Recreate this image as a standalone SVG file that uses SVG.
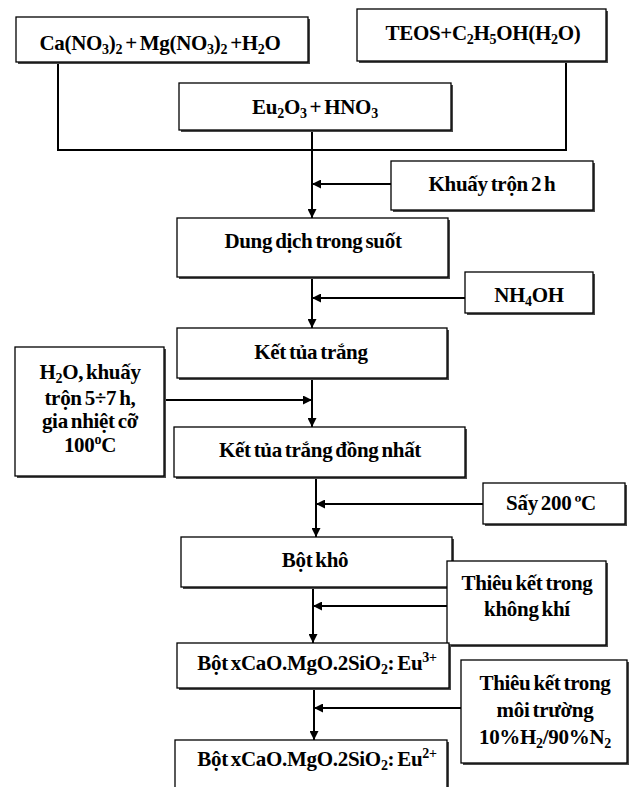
<svg xmlns="http://www.w3.org/2000/svg" width="629" height="787" viewBox="0 0 629 787">
<defs>
<style>
.sh{fill:#4a4a4a}
.box{fill:#fff;stroke:#000;stroke-width:1.3}
.t{font-family:"Liberation Serif","Times New Roman",serif;font-weight:bold;font-size:21px;letter-spacing:-0.3px;word-spacing:-2px;text-anchor:middle;fill:#000}
.s{font-size:14px}
.c{stroke:#000;stroke-width:2;fill:none}
</style>
<marker id="ah" viewBox="0 0 10 10" refX="10" refY="5" markerWidth="9" markerHeight="9" markerUnits="userSpaceOnUse" orient="auto">
<path d="M0,0 L10,5 L0,10 z" fill="#000"/>
</marker>
</defs>
<rect width="629" height="787" fill="#fff"/>

<g id="connectors">
<polyline class="c" points="58,62 58,150 566,150 566,61"/>
<line class="c" x1="312" y1="130" x2="312" y2="218" marker-end="url(#ah)"/>
<line class="c" x1="391" y1="184" x2="312" y2="184" marker-end="url(#ah)"/>
<line class="c" x1="312" y1="277" x2="312" y2="328" marker-end="url(#ah)"/>
<line class="c" x1="465" y1="298" x2="312" y2="298" marker-end="url(#ah)"/>
<line class="c" x1="312" y1="378" x2="312" y2="427" marker-end="url(#ah)"/>
<line class="c" x1="164" y1="400" x2="312" y2="400" marker-end="url(#ah)"/>
<line class="c" x1="316" y1="477" x2="316" y2="537" marker-end="url(#ah)"/>
<line class="c" x1="483" y1="504" x2="316" y2="504" marker-end="url(#ah)"/>
<line class="c" x1="313" y1="587" x2="313" y2="643" marker-end="url(#ah)"/>
<line class="c" x1="447" y1="606" x2="313" y2="606" marker-end="url(#ah)"/>
<line class="c" x1="314" y1="688" x2="314" y2="740" marker-end="url(#ah)"/>
<line class="c" x1="461" y1="708" x2="314" y2="708" marker-end="url(#ah)"/>
</g>

<g id="n-ca">
<rect class="sh" x="18" y="19" width="292" height="45"/>
<rect class="box" x="16" y="17" width="292" height="45"/>
<text class="t" x="160" y="50">Ca(NO<tspan class="s" dy="4">3</tspan><tspan dy="-4">)</tspan><tspan class="s" dy="4">2</tspan><tspan dy="-4"> + Mg(NO</tspan><tspan class="s" dy="4">3</tspan><tspan dy="-4">)</tspan><tspan class="s" dy="4">2</tspan><tspan dy="-4"> +H</tspan><tspan class="s" dy="4">2</tspan><tspan dy="-4">O</tspan></text>
</g>

<g id="n-teos">
<rect class="sh" x="359" y="11" width="249" height="52"/>
<rect class="box" x="357" y="9" width="249" height="52"/>
<text class="t" x="483" y="40">TEOS+C<tspan class="s" dy="4">2</tspan><tspan dy="-4">H</tspan><tspan class="s" dy="4">5</tspan><tspan dy="-4">OH(H</tspan><tspan class="s" dy="4">2</tspan><tspan dy="-4">O)</tspan></text>
</g>

<g id="n-eu">
<rect class="sh" x="181" y="85" width="272" height="47"/>
<rect class="box" x="179" y="83" width="272" height="47"/>
<text class="t" x="315" y="114">Eu<tspan class="s" dy="4">2</tspan><tspan dy="-4">O</tspan><tspan class="s" dy="4">3</tspan><tspan dy="-4"> + HNO</tspan><tspan class="s" dy="4">3</tspan></text>
</g>

<g id="n-khuay">
<rect class="sh" x="393" y="163" width="202" height="49"/>
<rect class="box" x="391" y="161" width="202" height="49"/>
<text class="t" x="492" y="191">Khuấy trộn 2 h</text>
</g>

<g id="n-dungdich">
<rect class="sh" x="179" y="220" width="271" height="59"/>
<rect class="box" x="177" y="218" width="271" height="59"/>
<text class="t" x="313" y="248">Dung dịch trong suốt</text>
</g>

<g id="n-nh4oh">
<rect class="sh" x="467" y="274" width="128" height="41"/>
<rect class="box" x="465" y="272" width="128" height="41"/>
<text class="t" x="529" y="302">NH<tspan class="s" dy="4">4</tspan><tspan dy="-4">OH</tspan></text>
</g>

<g id="n-kettua">
<rect class="sh" x="179" y="330" width="270" height="50"/>
<rect class="box" x="177" y="328" width="270" height="50"/>
<text class="t" x="311" y="359">Kết tủa trắng</text>
</g>

<g id="n-h2o">
<rect class="sh" x="17" y="349" width="149" height="129"/>
<rect class="box" x="15" y="347" width="149" height="129"/>
<text class="t" x="90" y="379">H<tspan class="s" dy="4">2</tspan><tspan dy="-4">O, khuấy</tspan></text>
<text class="t" x="90" y="405">trộn 5÷7 h,</text>
<text class="t" x="90" y="428">gia nhiệt cỡ</text>
<text class="t" x="90" y="452">100<tspan class="s" dy="-8">o</tspan><tspan dy="8">C</tspan></text>
</g>

<g id="n-dongnhat">
<rect class="sh" x="176" y="429" width="291" height="50"/>
<rect class="box" x="174" y="427" width="291" height="50"/>
<text class="t" x="320" y="457">Kết tủa trắng đồng nhất</text>
</g>

<g id="n-say">
<rect class="sh" x="485" y="485" width="142" height="41"/>
<rect class="box" x="483" y="483" width="142" height="41"/>
<text class="t" x="551" y="510">Sấy 200 ºC</text>
</g>

<g id="n-botkho">
<rect class="sh" x="183" y="539" width="271" height="50"/>
<rect class="box" x="181" y="537" width="271" height="50"/>
<text class="t" x="315" y="567">Bột khô</text>
</g>

<g id="n-thieu1">
<rect class="sh" x="449" y="563" width="159" height="84"/>
<rect class="box" x="447" y="561" width="159" height="84"/>
<text class="t" x="527" y="590">Thiêu kết trong</text>
<text class="t" x="527" y="616">không khí</text>
</g>

<g id="n-eu3">
<rect class="sh" x="179" y="645" width="272" height="45"/>
<rect class="box" x="177" y="643" width="272" height="45"/>
<text class="t" x="317" y="670">Bột xCaO.MgO.2SiO<tspan class="s" dy="4">2</tspan><tspan dy="-4">: Eu</tspan><tspan class="s" dy="-8">3+</tspan></text>
</g>

<g id="n-thieu2">
<rect class="sh" x="463" y="662" width="166" height="103"/>
<rect class="box" x="461" y="660" width="166" height="103"/>
<text class="t" x="545" y="690">Thiêu kết trong</text>
<text class="t" x="545" y="717">môi trường</text>
<text class="t" x="545" y="744">10%H<tspan class="s" dy="4">2</tspan><tspan dy="-4">/90%N</tspan><tspan class="s" dy="4">2</tspan></text>
</g>

<g id="n-eu2">
<rect class="sh" x="177" y="742" width="272" height="60"/>
<rect class="box" x="175" y="740" width="272" height="60"/>
<text class="t" x="317" y="766">Bột xCaO.MgO.2SiO<tspan class="s" dy="4">2</tspan><tspan dy="-4">: Eu</tspan><tspan class="s" dy="-8">2+</tspan></text>
</g>
</svg>
